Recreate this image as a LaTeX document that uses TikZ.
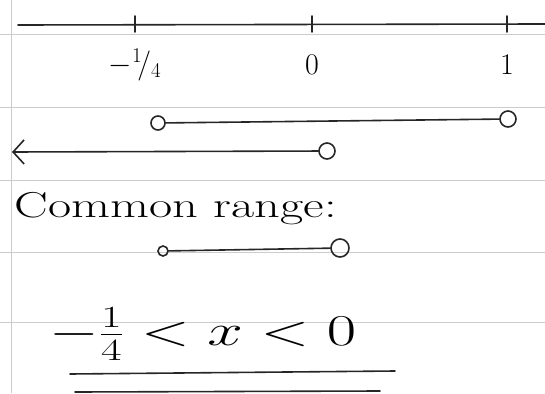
\RequirePackage{fix-cm}
\documentclass[tikz,border=0pt]{standalone}
\usepackage{fontspec}
\usetikzlibrary{positioning,arrows.meta}

\begin{document}
\begin{tikzpicture}[x=1pt,y=-1pt]
  \tikzstyle{every node}=[font=\fontsize{30}{36}\selectfont]
  \tikzstyle{rule}=[draw=gray!40,line width=1pt]
  \tikzstyle{ink}=[draw=black!85,line width=1.6pt,line cap=round]
  \tikzstyle{hole}=[circle,draw=black!85,line width=1.6pt,inner sep=0pt,minimum size=14pt]
  \tikzstyle{wide}=[xscale=1.4,transform shape]

  \useasboundingbox (0,0) rectangle (545,393);

  % ruled paper
  \foreach \y in {35,107,180,252,322}
    \draw[rule] (0,\y) -- (545,\y);
  \draw[rule] (11,0) -- (11,393);

  % number line
  \coordinate (lineL) at (18,25);
  \coordinate (lineR) at (545,24);
  \draw[ink] (lineL) -- (lineR);
  \foreach \x/\name/\lbl in {135/quarter/{$-{}^{1}\!/_{4}$},312/zero/{$0$},507/one/{$1$}}{
    \coordinate (tick\name) at (\x,24);
    \draw[ink] ([yshift=8pt]tick\name) -- ([yshift=-8pt]tick\name);
    \node (lbl\name) at (\x,65) {\lbl};
  }

  % x > -1/4
  \node[hole] (gtA) at (158,123) {};
  \node[hole,minimum size=16pt] (gtB) at (508,119) {};
  \draw[ink] (gtA) -- (gtB);

  % x < 0
  \node[hole,minimum size=16pt] (ltA) at (327,151) {};
  \coordinate (ltEnd) at (12,152);
  \draw[ink,-{Straight Barb[length=11pt,width=24pt]}] (ltA) -- (ltEnd);

  % common range
  \node[wide,anchor=base west,font=\fontsize{36}{42}\selectfont] (common) at (10,217) {Common range:};
  \node[hole,minimum size=10pt] (crA) at (163,251) {};
  \node[hole,minimum size=18pt] (crB) at (340,248) {};
  \draw[ink] (crA) -- (crB);

  % answer
  \node[xscale=1.45,transform shape,font=\fontsize{44}{50}\selectfont] (answer) at (203,334) {$-\frac{1}{4} < x < 0$};
  \draw[ink] (70,374) -- (395,371);
  \draw[ink] (75,392) -- (380,391);
\end{tikzpicture}
\end{document}
